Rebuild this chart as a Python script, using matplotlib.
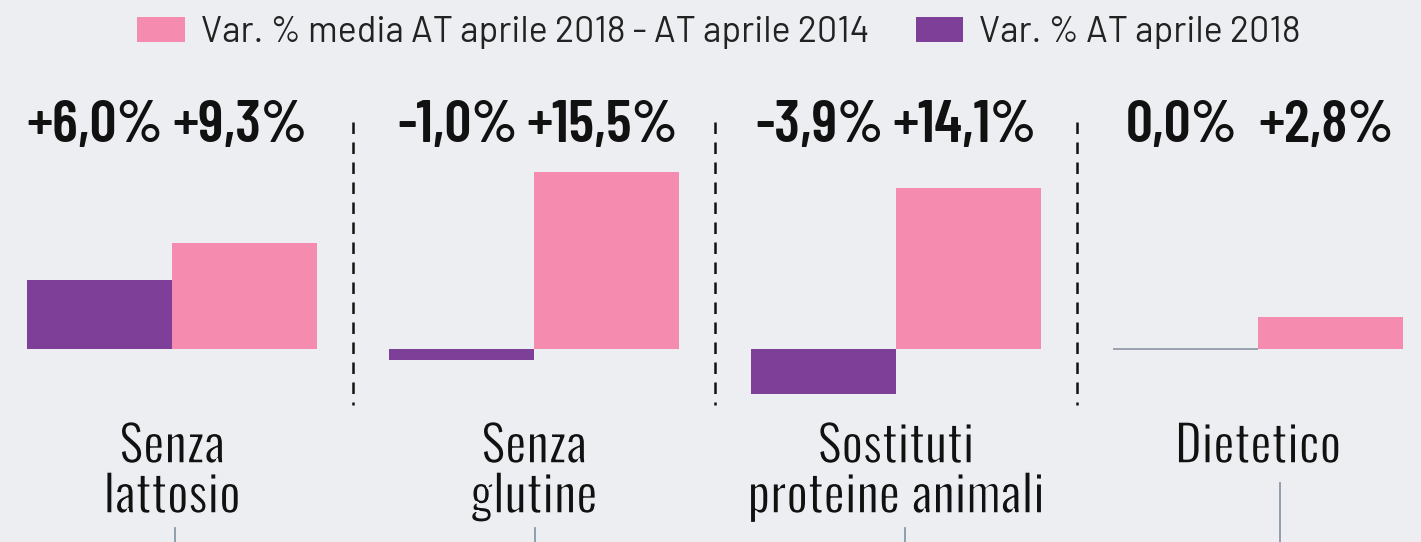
import matplotlib
matplotlib.use("Agg")
import matplotlib.pyplot as plt
import matplotlib.patheffects as pe
from matplotlib.patches import Patch
from matplotlib.lines import Line2D

# ---- data -------------------------------------------------------------
categories = ["Senza\nlattosio", "Senza\nglutine", "Sostituti\nproteine animali", "Dietetico"]
var_at_2018 = [6.0, -1.0, -3.9, 0.0]          # Var. % AT aprile 2018
var_media_2014_2018 = [9.3, 15.5, 14.1, 2.8]  # Var. % media AT aprile 2018 - AT aprile 2014
legend_labels = ["Var. % media AT aprile 2018 - AT aprile 2014", "Var. % AT aprile 2018"]

# ---- style ------------------------------------------------------------
BG = "#eceef1"
PINK = "#f68bb0"
PURPLE = "#7d3f98"
INK = "#111111"
CONNECTOR = "#8a97a8"

NUM_FONT = "Barlow Condensed"
CAT_FONT = "Oswald"
LEG_FONT = "Barlow"

W, H = 1421, 542
fig = plt.figure(figsize=(W / 100, H / 100), dpi=100, facecolor=BG)
ax = fig.add_axes([0, 0, 1, 1])
ax.set_facecolor(BG)

# horizontal layout: group pitch 362 px, first group centre at 172 px
pitch = 362.0
x0_px = 172.0
ax.set_xlim(-x0_px / pitch, (W - x0_px) / pitch)
# vertical layout: zero line at 349 px from the top, 11.42 px per percentage point
ppu = 11.42
zero_px = 349.0
ax.set_ylim(-(H - zero_px) / ppu, zero_px / ppu)
ax.axis("off")


def py(pix_from_top):
    """Convert a pixel row (from the top) to data y."""
    return (zero_px - pix_from_top) / ppu


bw = 145.0 / pitch
xs = list(range(len(categories)))
x_purple = [x - bw / 2 for x in xs]
x_pink = [x + bw / 2 for x in xs]

ax.bar(x_purple, var_at_2018, width=bw, color=PURPLE, linewidth=0, zorder=3)
ax.bar(x_pink, var_media_2014_2018, width=bw, color=PINK, linewidth=0, zorder=3)

# a zero-valued bar shows up as a thin rule on the baseline
for x, v in zip(x_purple, var_at_2018):
    if v == 0:
        ax.plot([x - bw / 2, x + bw / 2], [0, 0], color="#8c93a3", lw=1.2, zorder=4,
                solid_capstyle="butt")


def fmt(v):
    s = f"{abs(v):.1f}".replace(".", ",") + "%"
    if v > 0:
        return "+" + s
    if v < 0:
        return "-" + s
    return s


for xset, vals in ((x_purple, var_at_2018), (x_pink, var_media_2014_2018)):
    for x, v in zip(xset, vals):
        ax.text(x - 0.012, py(142), fmt(v), ha="center", va="baseline", fontsize=43,
                fontfamily=NUM_FONT, fontweight="semibold", color=INK)

# dashed separators between groups
for i in range(len(categories) - 1):
    ax.plot([i + 0.5, i + 0.5], [py(122), py(405)], color=INK, lw=1.8,
            dashes=(4.6, 3.4), zorder=2)

# category names, line by line; a background-coloured outline gives a lighter stroke
thin = [pe.Stroke(linewidth=1.1, foreground=BG)]
line_base = [463, 513]
for x, name in zip(xs, categories):
    for k, line in enumerate(name.split("\n")):
        ax.text(x, py(line_base[k]), line, ha="center", va="baseline", fontsize=36.5,
                fontfamily=CAT_FONT, color=INK, path_effects=thin)

# short connector rules under the labels
conn_x = [175, 535, 905, 1280]
conn_top = [528, 528, 528, 483]
for cx, ct in zip(conn_x, conn_top):
    fig.add_artist(Line2D([cx / W, cx / W], [1 - ct / H, 0], color=CONNECTOR, lw=1.3))

# legend
handles = [Patch(facecolor=PINK, edgecolor="none"), Patch(facecolor=PURPLE, edgecolor="none")]
leg = fig.legend(handles, legend_labels, loc="upper center", bbox_to_anchor=(0.506, 0.9975),
                 ncol=2, frameon=False, handlelength=1.32, handleheight=0.7,
                 handletextpad=0.45, columnspacing=1.3, borderaxespad=0.0,
                 prop={"family": LEG_FONT, "size": 25.8})
for t in leg.get_texts():
    t.set_color("#222222")

fig.savefig("out.png", dpi=100, facecolor=BG)
